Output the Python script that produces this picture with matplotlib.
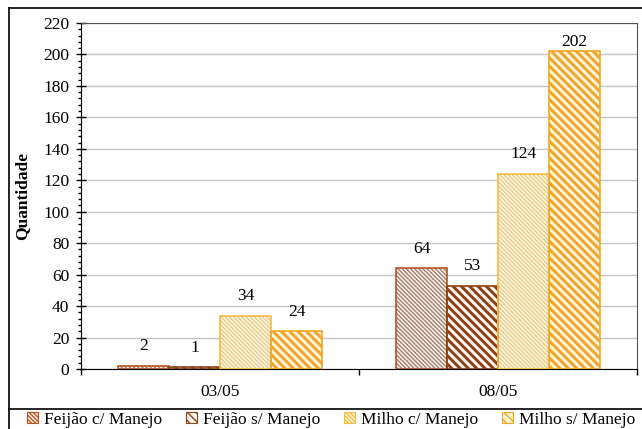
import matplotlib
matplotlib.use("Agg")
import matplotlib.pyplot as plt
import numpy as np
from matplotlib.lines import Line2D
from matplotlib.patches import Patch
from matplotlib.ticker import MultipleLocator, FixedLocator

plt.rcParams['font.family'] = ['Liberation Serif', 'DejaVu Serif']

datas = ['03/05', '08/05']
series = ['Feijão c/ Manejo', 'Feijão s/ Manejo', 'Milho c/ Manejo', 'Milho s/ Manejo']
valores = [
    [2, 64],
    [1, 53],
    [34, 124],
    [24, 202],
]

fundos = ['#FAF2EE', '#FFF9F5', '#FFF7DC', '#FFF6D8']
hachuras = ['#A08272', '#8E3F12', '#E6CC92', '#F2A32E']
bordas = ['#B8541E', '#8C4214', '#F4BC48', '#F2A526']
padroes = ['\\' * 8, '\\' * 4, '\\' * 8, '\\' * 4]
espessuras = [1.0, 2.1, 1.0, 2.1]

fs = 12.5

fig = plt.figure(figsize=(6.42, 4.29), dpi=100)
ax = fig.add_axes([81/642, 1 - 369/429, (637 - 81)/642, (369 - 23)/429])

x = np.arange(len(datas))
larg = 0.1835
desloc = (np.arange(len(series)) - 1.5) * larg

for i, nome in enumerate(series):
    pos = x + desloc[i]
    with plt.rc_context({'hatch.linewidth': espessuras[i]}):
        camada = ax.bar(pos, valores[i], larg, color=fundos[i],
                        edgecolor=hachuras[i], linewidth=0,
                        hatch=padroes[i], zorder=2)
    for b in camada:
        if hasattr(b, 'set_hatch_linewidth'):
            b.set_hatch_linewidth(espessuras[i])
    ax.bar(pos, valores[i], larg, fill=False, edgecolor=bordas[i],
           linewidth=1.2, zorder=3)
    for xp, v in zip(pos, valores[i]):
        ax.text(xp, min(v + 12.5, 208), str(v), ha='center', va='center',
                fontsize=fs, zorder=4)

ax.set_xlim(-0.5, 1.5)
ax.set_ylim(0, 220)
ax.yaxis.set_major_locator(MultipleLocator(20))
ax.yaxis.set_minor_locator(MultipleLocator(4))
ax.grid(axis='y', which='major', color='#C4C4C4', linewidth=1.0, zorder=0)
ax.set_axisbelow(True)

ax.set_xticks(x)
ax.set_xticklabels(datas)
ax.xaxis.set_minor_locator(FixedLocator([-0.5, 0.5, 1.5]))
ax.tick_params(axis='x', which='major', length=0, pad=11, labelsize=fs)
ax.tick_params(axis='x', which='minor', length=4, direction='out', width=1)
ax.tick_params(axis='y', which='major', length=7, direction='inout', width=1,
               labelsize=fs, pad=5)
ax.tick_params(axis='y', which='minor', length=2.5, direction='out', width=1)

ax.set_ylabel('Quantidade', fontsize=fs, fontweight='bold', labelpad=9)

for lado in ['top', 'right']:
    ax.spines[lado].set_color('#505050')
for lado in ['left', 'bottom']:
    ax.spines[lado].set_color('black')

# moldura externa e caixa da legenda
fig.add_artist(Line2D([9/642, 1], [1 - 8/429, 1 - 8/429], color='black', lw=1.2))
fig.add_artist(Line2D([9/642, 9/642], [0, 1 - 8/429], color='black', lw=1.2))
fig.add_artist(Line2D([9/642, 1], [1 - 409/429, 1 - 409/429], color='black', lw=1.2))

alcas = []
for i, nome in enumerate(series):
    with plt.rc_context({'hatch.linewidth': espessuras[i] * 0.7}):
        p = Patch(facecolor=fundos[i], edgecolor=bordas[i], hatch=padroes[i],
                  linewidth=0.8, label=nome)
    alcas.append(p)
fig.legend(handles=alcas, loc='center', bbox_to_anchor=(0.516, 1 - 420/429),
           ncol=4, frameon=False, fontsize=fs, handlelength=0.6,
           handleheight=0.6, handletextpad=0.35, columnspacing=1.4,
           borderaxespad=0, borderpad=0)

fig.savefig('out.png', dpi=100)
